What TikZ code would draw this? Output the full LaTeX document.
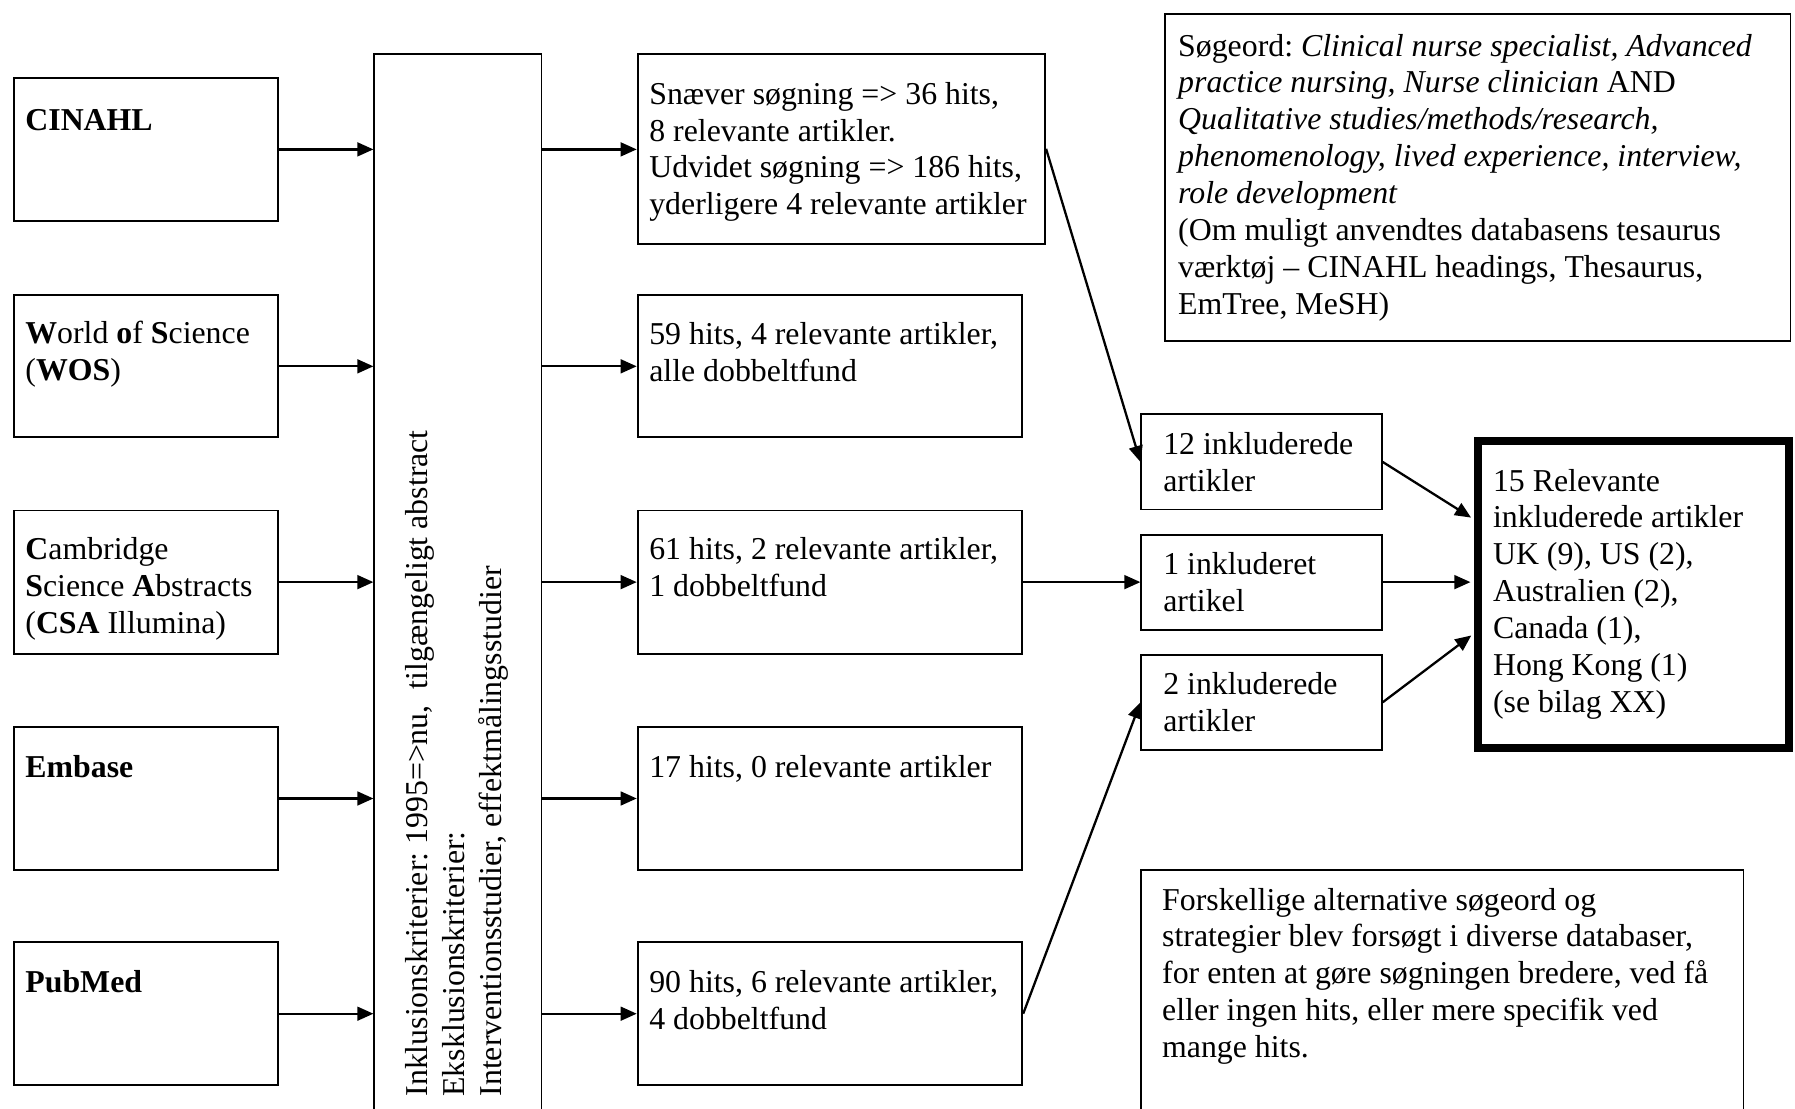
\documentclass[tikz,border=0pt]{standalone}
\usepackage{fontspec}
\setmainfont{Liberation Serif}
\frenchspacing
\usetikzlibrary{arrows.meta}

\tikzset{
  box/.style={draw, line width=1.6pt, inner sep=0pt},
  txt/.style={anchor=base west, align=left, inner sep=0pt},
  arr/.style={line width=2pt, -{Triangle[length=14pt,width=12pt]}}
}

\begin{document}
\begin{tikzpicture}[x=1pt, y=-1pt, font=\fontsize{27.8}{32.2}\selectfont]
        \useasboundingbox (0,0) rectangle (1568,968);
        \node[box, minimum width=231pt, minimum height=125pt] (cinahl) at (127.5,130.5) {};
        \node[box, minimum width=231pt, minimum height=124pt] (wos) at (127.5,320) {};
        \node[box, minimum width=231pt, minimum height=125pt] (csa) at (127.5,508.5) {};
        \node[box, minimum width=231pt, minimum height=125pt] (embase) at (127.5,697.5) {};
        \node[box, minimum width=231pt, minimum height=125pt] (pubmed) at (127.5,885.5) {};
        \node[txt] (cinahl-t) at (22,114) {\textbf{CINAHL}};
        \node[txt] (wos-t) at (22,332.2) {\textbf{W}orld \textbf{o}f \textbf{S}cience\\(\textbf{WOS})};
        \node[txt] (csa-t) at (22,553.4) {\textbf{C}ambridge\\\textbf{S}cience \textbf{A}bstracts\\(\textbf{CSA} Illumina)};
        \node[txt] (embase-t) at (22,679) {\textbf{Embase}};
        \node[txt] (pubmed-t) at (22,867) {\textbf{PubMed}};

        \node[box, minimum width=146pt, minimum height=943pt] (krit) at (400,518.5) {};
        \node[txt, rotate=90] (krit-t) at (438,958) {Inklusionskriterier: 1995=>nu,\ \ tilgængeligt abstract\\Eksklusionskriterier:\\Interventionsstudier, effektmålingsstudier};

        \node[box, minimum width=356pt, minimum height=166pt] (snaever) at (735,130) {};
        \node[box, minimum width=336pt, minimum height=124pt] (hits59) at (725,320) {};
        \node[box, minimum width=336pt, minimum height=125pt] (hits61) at (725,508.5) {};
        \node[box, minimum width=336pt, minimum height=125pt] (hits17) at (725,697.5) {};
        \node[box, minimum width=336pt, minimum height=125pt] (hits90) at (725,885.5) {};
        \node[txt] (snaever-t) at (567,187.6) {Snæver søgning => 36 hits,\\8 relevante artikler.\\Udvidet søgning => 186 hits,\\yderligere 4 relevante artikler};
        \node[txt] (hits59-t) at (567,333.2) {59 hits, 4 relevante artikler,\\alle dobbeltfund};
        \node[txt] (hits61-t) at (567,521.2) {61 hits, 2 relevante artikler,\\1 dobbeltfund};
        \node[txt] (hits17-t) at (567,679) {17 hits, 0 relevante artikler};
        \node[txt] (hits90-t) at (567,899.2) {90 hits, 6 relevante artikler,\\4 dobbeltfund};

        \node[box, minimum width=210pt, minimum height=83pt] (inkl12) at (1102,403.5) {};
        \node[box, minimum width=210pt, minimum height=83pt] (inkl1) at (1102,508.5) {};
        \node[box, minimum width=210pt, minimum height=83pt] (inkl2) at (1102,613.5) {};
        \node[txt] (inkl12-t) at (1016,429.2) {12 inkluderede\\artikler};
        \node[txt] (inkl1-t) at (1016,534.2) {1 inkluderet\\artikel};
        \node[txt] (inkl2-t) at (1016,639.2) {2 inkluderede\\artikler};

        \node[box, line width=7pt, minimum width=271pt, minimum height=268pt] (relevant) at (1427,519.5) {};
        \node[txt] (relevant-t) at (1304,622.2) {15 Relevante\\inkluderede artikler\\UK (9), US (2),\\Australien (2),\\Canada (1),\\Hong Kong (1)\\(se bilag XX)};

        \node[box, minimum width=546pt, minimum height=286pt] (soegeord) at (1291,155) {};
        \node[txt] (soegeord-t) at (1029,274.4) {Søgeord: \textit{Clinical nurse specialist, Advanced}\\\textit{practice nursing, Nurse clinician} AND\\\textit{Qualitative studies/methods/research,}\\\textit{phenomenology, lived experience, interview,}\\\textit{role development}\\(Om muligt anvendtes databasens tesaurus\\værktøj – CINAHL headings, Thesaurus,\\EmTree, MeSH)};
        \node[box, minimum width=526pt, minimum height=230pt] (forskel) at (1260,875) {};
        \node[txt] (forskel-t) at (1015,923.8) {Forskellige alternative søgeord og\\strategier blev forsøgt i diverse databaser,\\for enten at gøre søgningen bredere, ved få\\eller ingen hits, eller mere specifik ved\\mange hits.};

        \foreach \db/\hit in {cinahl/snaever, wos/hits59, csa/hits61, embase/hits17, pubmed/hits90} {
            \draw[arr] (\db.east) -- (\db.east -| krit.west);
            \draw[arr] (krit.east |- \db.east) -- (\db.east -| \hit.west);
        }
        \draw[arr] (snaever.east) -- (inkl12.west);
        \draw[arr] (hits61.east) -- (inkl1.west);
        \draw[arr] (hits90.east) -- (inkl2.west);
        \draw[arr, shorten >=3.5pt] (inkl12.east) -- ([yshift=54.5pt]inkl1.east -| relevant.west);
        \draw[arr, shorten >=3.5pt] (inkl1.east) -- (inkl1.east -| relevant.west);
        \draw[arr, shorten >=3.5pt] (inkl2.east) -- ([yshift=-44.5pt]inkl1.east -| relevant.west);
\end{tikzpicture}
\end{document}
